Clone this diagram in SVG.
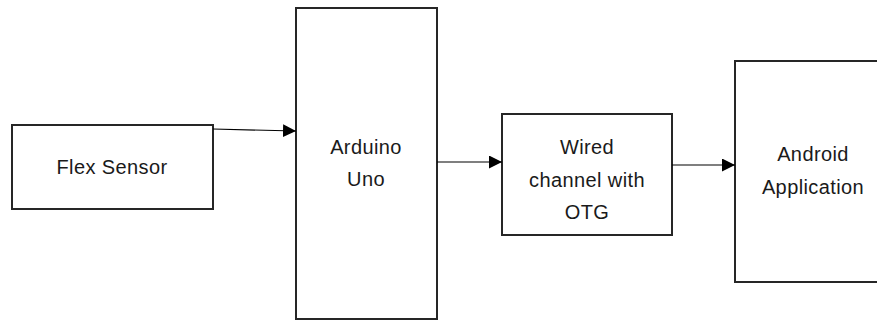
<svg xmlns="http://www.w3.org/2000/svg" width="877" height="320" viewBox="0 0 877 320">
<style>
.box{fill:#fff;stroke:#262626;stroke-width:2}
.lbl{font-family:"Liberation Sans",Arial,sans-serif;font-size:20px;letter-spacing:0.4px;fill:#1a1a1a;text-anchor:middle}
.con{stroke:#000;stroke-width:1.2;fill:none;marker-end:url(#ah)}
</style>
<defs>
<marker id="ah" markerUnits="userSpaceOnUse" markerWidth="14" markerHeight="13" refX="13" refY="6.5" orient="auto">
<path d="M0,0 L13,6.5 L0,13 Z" fill="#000"/>
</marker>
</defs>
<rect width="877" height="320" fill="#fff"/>
<g id="flex">
<rect class="box" x="12" y="125" width="201" height="84"/>
<text class="lbl" x="112" y="174">Flex Sensor</text>
</g>
<g id="arduino">
<rect class="box" x="296" y="8" width="141" height="311"/>
<text class="lbl" x="366" y="154">Arduino</text>
<text class="lbl" x="366" y="186">Uno</text>
</g>
<g id="wired">
<rect class="box" x="502" y="114" width="170" height="121"/>
<text class="lbl" x="587" y="154">Wired</text>
<text class="lbl" x="587" y="187">channel with</text>
<text class="lbl" x="587" y="219">OTG</text>
</g>
<g id="android">
<rect class="box" x="735" y="61" width="160" height="221"/>
<text class="lbl" x="813" y="161">Android</text>
<text class="lbl" x="813" y="194">Application</text>
</g>
<g id="connectors">
<path class="con" d="M213,129 L296,131"/>
<path class="con" d="M437,162 L502,162"/>
<path class="con" d="M672,165 L735,165"/>
</g>
</svg>
